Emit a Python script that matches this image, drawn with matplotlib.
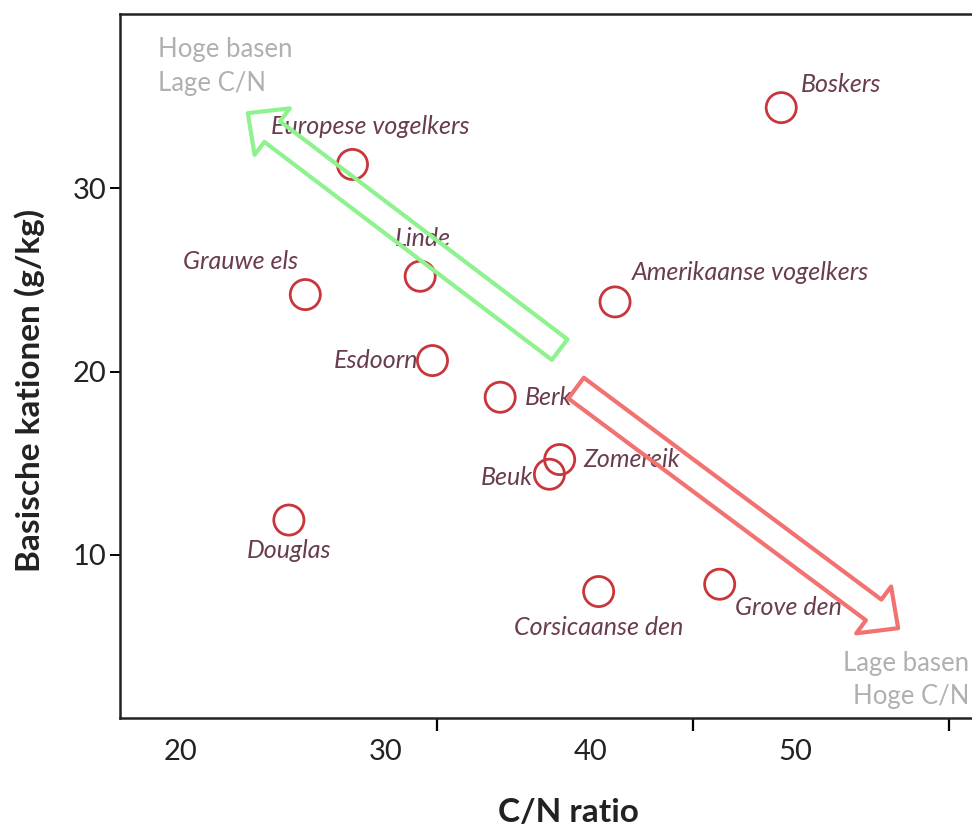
import matplotlib
matplotlib.use("Agg")
import matplotlib.pyplot as plt

# C/N ratio vs basic cations per tree species
species = ["Boskers", "Europese vogelkers", "Linde", "Grauwe els",
           "Amerikaanse vogelkers", "Esdoorn", "Berk", "Zomereik", "Beuk",
           "Douglas", "Corsicaanse den", "Grove den"]
cn_ratio = [49.3, 28.4, 31.7, 26.1, 41.2, 32.3, 35.6, 38.5, 38.0, 25.3, 40.4, 46.3]
cations = [34.4, 31.3, 25.2, 24.2, 23.8, 20.6, 18.6, 15.2, 14.4, 11.9, 8.0, 8.4]

x_ticks = [20, 30, 40, 50]
y_ticks = [10, 20, 30]

plt.rcParams["font.family"] = ["Lato", "DejaVu Sans"]

fig = plt.figure(figsize=(9.72, 8.32), dpi=100)
ax = fig.add_axes([0.1235, 0.137, 0.8765, 0.846])

ax.scatter(cn_ratio, cations, s=470, facecolors="none", edgecolors="#c8363c",
           linewidths=2.0, zorder=3)

# label placement (offset in points, horizontal alignment)
label_pos = [((14, 17), "left"), ((-59, 27), "left"), ((-18, 27), "left"),
             ((-5, 24), "right"), ((12, 21), "left"), ((-10, 0), "right"),
             ((18, 0), "left"), ((17, 0), "left"), ((-12, -2), "right"),
             ((0, -22), "center"), ((0, -26), "center"), ((11, -17), "left")]
for name, x, y, (off, ha) in zip(species, cn_ratio, cations, label_pos):
    ax.annotate(name, (x, y), xytext=off, textcoords="offset points",
                ha=ha, va="center", fontsize=18, style="italic",
                color="#6a3c50", zorder=2)

# trend arrows
ax.annotate("", xy=(23.3, 34.1), xytext=(38.5, 21.2),
            arrowprops=dict(arrowstyle="simple,head_length=1.1,head_width=2.1,tail_width=0.93",
                            mutation_scale=20, fc="none", ec="#8ef28e", lw=3,
                            shrinkA=0, shrinkB=0), zorder=4)
ax.annotate("", xy=(55.0, 6.0), xytext=(39.3, 19.1),
            arrowprops=dict(arrowstyle="simple,head_length=1.1,head_width=2.1,tail_width=0.93",
                            mutation_scale=20, fc="none", ec="#f27272", lw=3,
                            shrinkA=0, shrinkB=0), zorder=4)

corner = dict(transform=ax.transAxes, fontsize=18.5, color="#b0b0b0", va="center")
ax.text(0.045, 0.95, "Hoge basen", ha="left", **corner)
ax.text(0.045, 0.902, "Lage C/N", ha="left", **corner)
ax.text(0.997, 0.078, "Lage basen", ha="right", **corner)
ax.text(0.997, 0.030, "Hoge C/N", ha="right", **corner)

ax.set_xlim(17.07, 58.6)
ax.set_ylim(1.1, 39.5)

ax.set_xticks(x_ticks)
ax.set_xticklabels([str(t) for t in x_ticks])
ax.set_xticks([20, 32.5, 45, 57.5], minor=True)
ax.tick_params(axis="x", which="major", length=0, pad=15, labelsize=21, labelcolor="#222222")
ax.tick_params(axis="x", which="minor", length=9, width=1.6, direction="out")
ax.set_yticks(y_ticks)
ax.tick_params(axis="y", length=7, width=1.4, pad=3, labelsize=21, labelcolor="#222222")

ax.set_xlabel("C/N ratio", fontsize=24, fontweight="bold", color="#222222")
ax.set_ylabel("Basische kationen (g/kg)", fontsize=24, fontweight="bold", color="#222222")
ax.xaxis.set_label_coords(0.526, -0.134)
ax.yaxis.set_label_coords(-0.106, 0.466)
ax.xaxis.label.set_verticalalignment("center")
ax.yaxis.label.set_verticalalignment("center")

for side in ["left", "top", "bottom"]:
    ax.spines[side].set_linewidth(1.8)
    ax.spines[side].set_color("#222222")
ax.spines["right"].set_visible(False)

fig.savefig("out.png", dpi=100)
